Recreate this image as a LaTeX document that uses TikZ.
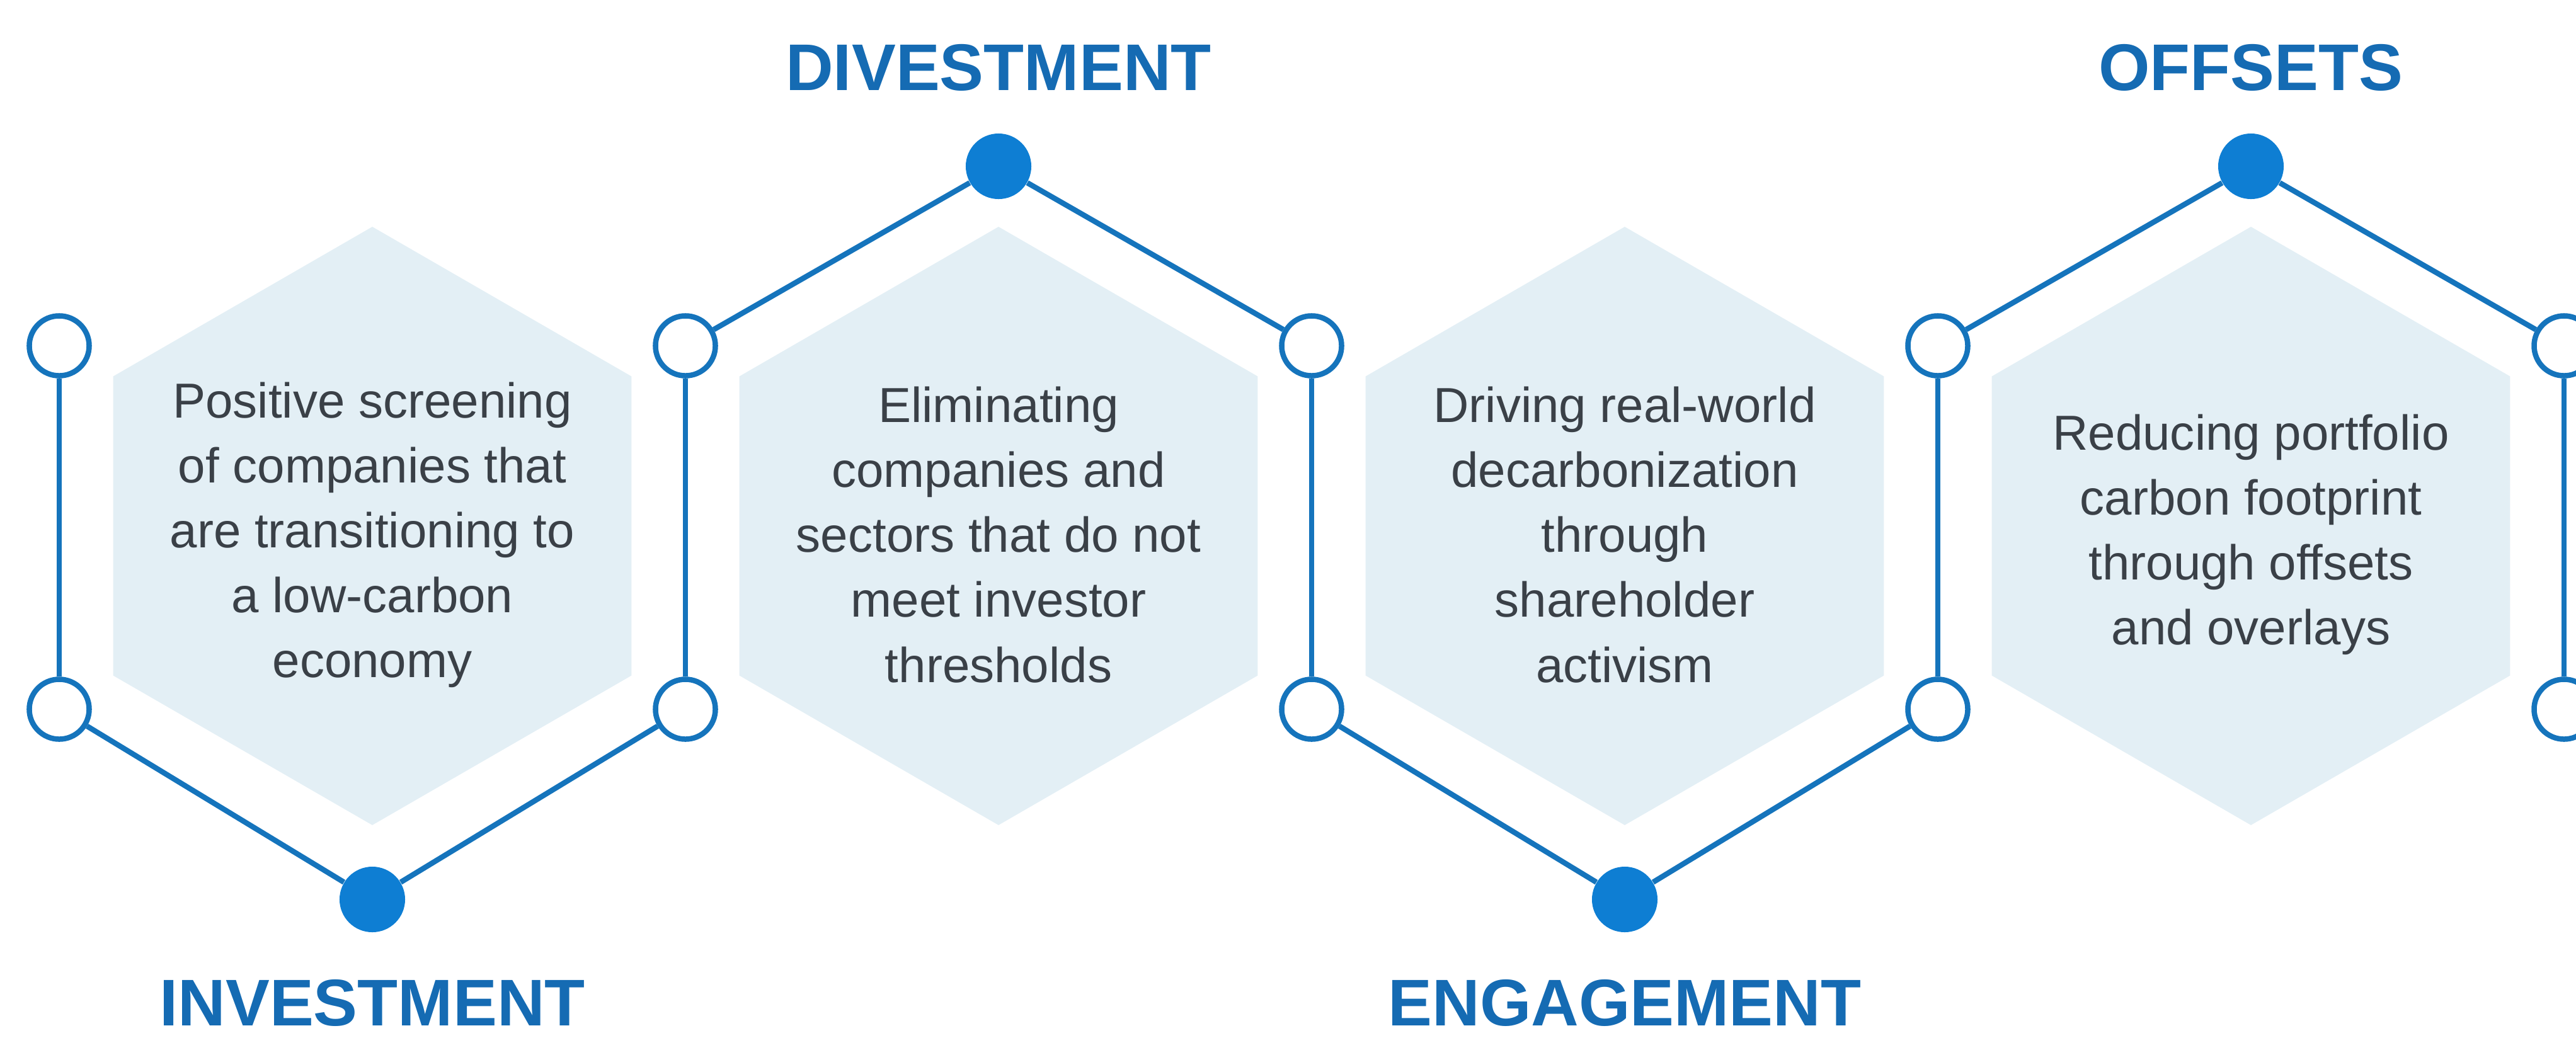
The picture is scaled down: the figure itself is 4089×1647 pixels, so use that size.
\documentclass[tikz,border=0pt]{standalone}
\usepackage{fontspec}
\setmainfont{Liberation Sans}
\usetikzlibrary{positioning}
\definecolor{lineblue}{HTML}{1574BC}
\definecolor{dotblue}{HTML}{0E7ED3}
\definecolor{headblue}{HTML}{156BB3}
\definecolor{hexfill}{HTML}{E3EFF5}
\definecolor{textgray}{HTML}{3A4047}
\tikzset{
        ring/.style={circle,draw=lineblue,line width=0.085cm,fill=white,minimum size=0.95cm,inner sep=0pt},
        dot/.style={circle,fill=dotblue,minimum size=1.04cm,inner sep=0pt},
        link/.style={draw=lineblue,line width=0.085cm},
        blurb/.style={align=center,text=textgray,inner sep=0pt,font=\fontsize{22.2}{29.3}\selectfont},
        headline/.style={anchor=base,text=headblue,inner sep=0pt,font=\bfseries\fontsize{29.8}{35}\selectfont}
}

\begin{document}
\begin{tikzpicture}[x=0.01cm,y=-0.01cm]
                \useasboundingbox (0,0) rectangle (4089,1647);
                % light hexagons behind the texts
                \foreach \cx in {591,1585,2579,3573}
                        \fill[hexfill] (\cx,835) +(30:475) -- +(90:475) -- +(150:475)
                                -- +(210:475) -- +(270:475) -- +(330:475) -- cycle;
                % chain of rings and dots
                \node[ring] (a1) at (94,549) {};
                \node[ring] (a2) at (94,1126) {};
                \node[dot]  (b1) at (591,1428) {};
                \node[ring] (a3) at (1088,1126) {};
                \node[ring] (a4) at (1088,549) {};
                \node[dot]  (t1) at (1585,264) {};
                \node[ring] (a5) at (2082,549) {};
                \node[ring] (a6) at (2082,1126) {};
                \node[dot]  (b2) at (2579,1428) {};
                \node[ring] (a7) at (3076,1126) {};
                \node[ring] (a8) at (3076,549) {};
                \node[dot]  (t2) at (3573,264) {};
                \node[ring] (a9) at (4070,549) {};
                \node[ring] (a10) at (4070,1126) {};
                \path[link]
                        (a1) edge (a2)
                        (a2) edge (b1)
                        (b1) edge (a3)
                        (a3) edge (a4)
                        (a4) edge (t1)
                        (t1) edge (a5)
                        (a5) edge (a6)
                        (a6) edge (b2)
                        (b2) edge (a7)
                        (a7) edge (a8)
                        (a8) edge (t2)
                        (t2) edge (a9)
                        (a9) edge (a10)
                ;
                % texts
                \node[blurb] (txtA) at (591,849) {Positive screening\\of companies that\\are transitioning to\\a low-carbon\\economy};
                \node[blurb] (txtB) at (1585,849) {Eliminating\\companies and\\sectors that do not\\meet investor\\thresholds};
                \node[blurb] (txtC) at (2579,849) {Driving real-world\\decarbonization\\through\\shareholder\\activism};
                \node[blurb] (txtD) at (3573,849) {Reducing portfolio\\carbon footprint\\through offsets\\and overlays};
                % headings
                \node[headline] (invest) at (591,1628) {INVESTMENT};
                \node[headline] (divest) at (1585,143) {DIVESTMENT};
                \node[headline] (engage) at (2579,1628) {ENGAGEMENT};
                \node[headline] (offset) at (3573,143) {OFFSETS};
\end{tikzpicture}
\end{document}
